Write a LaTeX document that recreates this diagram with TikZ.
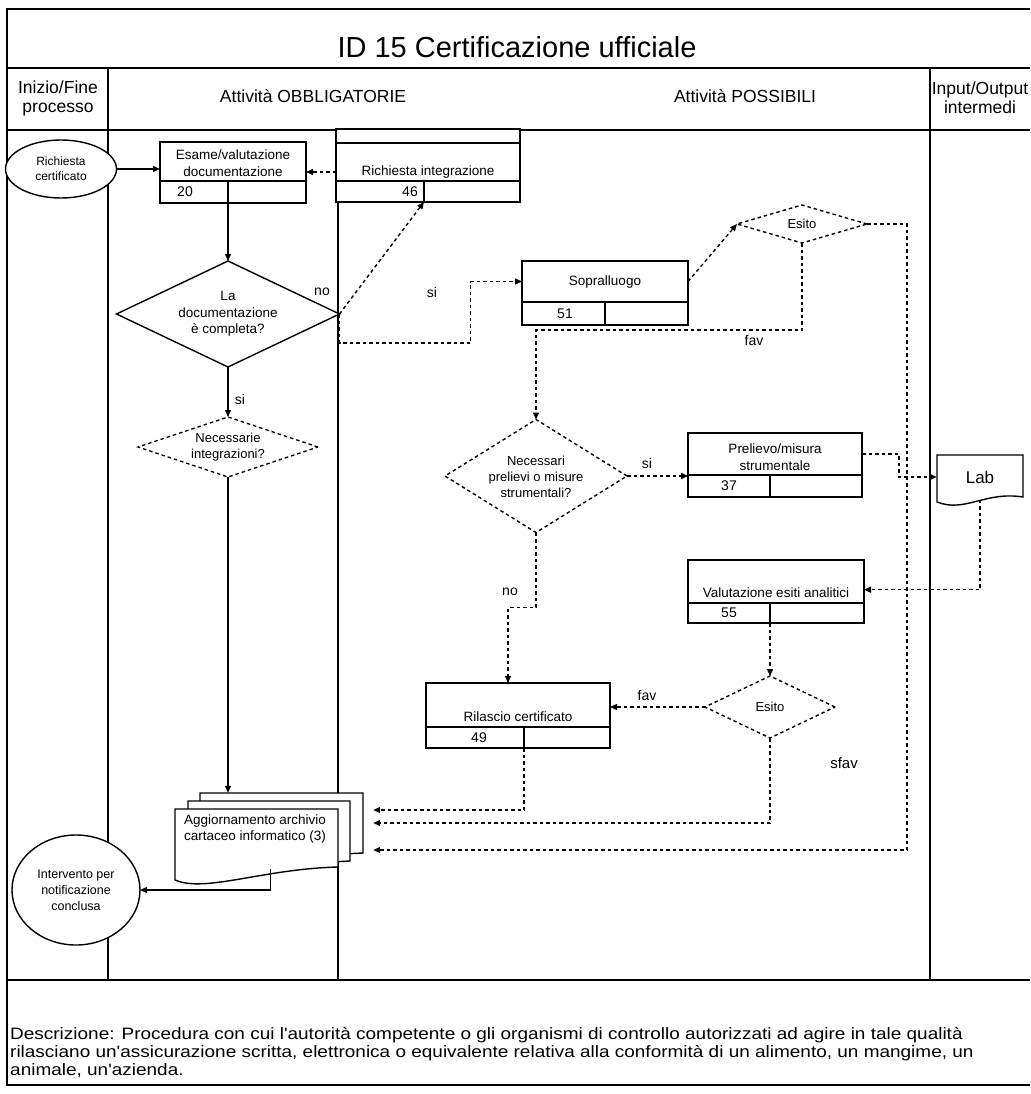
\documentclass[tikz,border=0pt]{standalone}
\usepackage{fontspec}
\setmainfont{Liberation Sans}
\newfontfamily\descfont[FakeStretch=1.15]{Liberation Sans}
\usetikzlibrary{shapes.geometric,arrows.meta,calc}

% process box: name, x1, y1, ydiv, x2, y2, xcell, xnum, number
\newcommand\procbox[9]{%
  \node[shp,minimum width={(#5-#2)*1pt},minimum height={(#4-#3)*1pt}] (#1) at ({(#2+#5)/2},{(#3+#4)/2}) {};
  \node[shp,minimum width={(#5-#2)*1pt},minimum height={(#6-#4)*1pt}] (#1-n) at ({(#2+#5)/2},{(#4+#6)/2}) {};
  \coordinate (#1-c) at (#7,#6);
  \draw[line width=1.4pt] (#7,#4) -- (#1-c);
  \node[num] (#1-num) at (#8,{(#4+#6)/2}) {#9};
}

\begin{document}
\begin{tikzpicture}[x=1pt,y=-1pt,
  frameline/.style={line width=1.6pt},
  laneline/.style={line width=1.4pt},
  shp/.style={draw,line width=1.4pt,inner sep=0pt,outer sep=0pt,fill=white},
  dshp/.style={shp,dash pattern=on 3.5pt off 3pt},
  hdr/.style={font=\fontsize{17.5}{19}\selectfont,align=center,inner sep=0pt},
  txt/.style={font=\fontsize{13.5}{16.5}\selectfont,align=center,inner sep=0pt},
  dtxt/.style={font=\fontsize{13}{16}\selectfont,align=center,inner sep=0pt},
  num/.style={font=\fontsize{14}{16}\selectfont,inner sep=0pt},
  lbl/.style={font=\fontsize{14}{16}\selectfont,inner sep=0pt},
  sarr/.style={line width=1.4pt,-{Triangle[length=7pt,width=6pt]}},
  darr/.style={sarr,dash pattern=on 3.5pt off 3pt},
  docline/.style={line width=1.4pt,fill=white}
]
\useasboundingbox (0,0) rectangle (1030,1094);

% frame, title band, header row, lanes
\draw[frameline] (1030,9) -- (7,9) -- (7,1085) -- (1030,1085);
\draw[frameline] (7,68) -- (1030,68);
\draw[frameline] (7,130) -- (1030,130);
\draw[frameline] (7,980) -- (1030,980);
\draw[laneline] (108,68) -- (108,980);
\draw[laneline] (338,130) -- (338,980);
\draw[laneline] (930,68) -- (930,980);

\node[font=\fontsize{29}{32}\selectfont,inner sep=0pt] (title) at (517,47) {ID 15 Certificazione ufficiale};
\node[hdr] (h1) at (58,98) {Inizio/Fine\\processo};
\node[hdr] (h2) at (313,96) {Attività OBBLIGATORIE};
\node[hdr] (h3) at (745,96) {Attività POSSIBILI};
\node[hdr] (h4) at (980,98) {Input/Output\\intermedi};

% start and end events
\node[shp,ellipse,minimum width=111pt,minimum height=58pt,font=\fontsize{12}{15}\selectfont,align=center] (rc) at (61,169) {Richiesta\\certificato};
\node[shp,ellipse,minimum width=128pt,minimum height=110pt,font=\fontsize{12.5}{16}\selectfont,align=center] (int) at (76,890) {Intervento per\\notificazione\\conclusa};

% process boxes
\procbox{esame}{160}{142}{181}{306}{203}{228}{185}{20}
\node[txt] (esame-t) at (233,163) {Esame/valutazione\\documentazione};

\procbox{ri}{336}{129}{181}{520}{202}{424}{410}{46}
\draw[line width=1.4pt] (336,143) -- (520,143);
\node[txt] (ri-t) at (428,172) {Richiesta integrazione};

\procbox{sop}{522}{261}{302}{688}{325}{605}{565}{51}
\node[txt] (sop-t) at (605,282) {Sopralluogo};

\procbox{prel}{688}{433}{475}{862}{497}{770}{729}{37}
\node[txt] (prel-t) at (775,457) {Prelievo/misura\\strumentale};

\procbox{val}{688}{560}{603}{864}{623}{770}{729}{55}
\node[txt] (val-t) at (776,593) {Valutazione esiti analitici};

\procbox{ril}{426}{683}{727}{610}{748}{524}{479}{49}
\node[txt] (ril-t) at (518,717) {Rilascio certificato};

% decisions
\node[shp,diamond,minimum width=223pt,minimum height=106pt] (doc) at (228,314) {};
\node[txt] (doc-t) at (228,314) {La\\documentazione\\è completa?};
\node[dshp,diamond,minimum width=180pt,minimum height=60pt] (necint) at (228,447) {};
\node[dtxt] (necint-t) at (228,447) {Necessarie\\integrazioni?};
\node[dshp,diamond,minimum width=130pt,minimum height=38pt] (esito1) at (802,224) {};
\node[dtxt] (esito1-t) at (802,224) {Esito};
\node[dshp,diamond,minimum width=182pt,minimum height=113pt] (nec) at (536,476) {};
\node[dtxt] (nec-t) at (536,477) {Necessari\\prelievi o misure\\strumentali?};
\node[dshp,diamond,minimum width=130pt,minimum height=62pt] (esito2) at (770,707) {};
\node[dtxt] (esito2-t) at (770,707) {Esito};

% laboratory document
\node[inner sep=0pt,minimum width=86pt,minimum height=45pt] (lab) at (980,477) {};
\draw[docline] (937,455) -- (1023,455) -- (1023,497) .. controls (985,491) and (965,513) .. (937,502) -- cycle;
\node[inner sep=0pt,font=\fontsize{17}{19}\selectfont] (lab-t) at (980,477) {Lab};

% archive update: stacked documents
\node[inner sep=0pt,minimum width=163pt,minimum height=60pt] (aggb) at (281.5,823) {};
\node[inner sep=0pt,minimum width=162pt,minimum height=60pt] (aggm) at (269,831) {};
\node[inner sep=0pt,minimum width=163pt,minimum height=60pt] (aggf) at (256.5,839) {};
\draw[docline] (200,855) -- (200,793) -- (363,793) -- (363,853) .. controls (320,855) and (250,860) .. (200,866) -- cycle;
\draw[docline] (188,863) -- (188,801) -- (350,801) -- (350,861) .. controls (310,863) and (240,868) .. (188,874) -- cycle;
\draw[docline] (175,880) -- (175,809) -- (338,809) -- (338,867) .. controls (262,869) and (205,893) .. (175,880) -- cycle;
\node[txt] (agg-t) at (255,829) {Aggiornamento archivio\\cartaceo informatico (3)};

% connectors
\draw[sarr] (rc.east) -- (rc.east -| esame.west);
\draw[darr] (ri-t -| ri.west) -- (ri-t -| esame.east);
\draw[sarr] (esame-c) -- (doc.north);
\draw[darr] (doc.east) -- (ri-c);
\node[lbl] (l-no1) at (322,292) {no};
\draw[darr] (doc.east) -- ++(0,29) -- ++(131,0) |- (sop.west);
\node[lbl] (l-si1) at (432,292) {si};
\draw[darr] (sop.east) -- (esito1.west);
\draw[darr] (esito1.south) -- ++(0,87) -| (nec.north);
\node[lbl] (l-fav1) at (754,341) {fav};
\draw[darr,shorten >=10pt] (esito1.east) -| ++(40,626) coordinate (f1) -- (f1 -| aggb.east);
\draw[darr] (nec.east) -- (nec.east -| prel.west);
\node[lbl] (l-si2) at (647,463) {si};
\draw[darr] (prel.east) -- ++(37,0) |- (lab.west);
\draw[darr] (lab.south) -- ++(0,90) coordinate (f2) -- (f2 -| val.east);
\draw[darr] (val-c) -- (val-c |- esito2.north);
\draw[darr] (esito2.west) -- (esito2.west -| ril.east);
\node[lbl] (l-fav2) at (647,695) {fav};
\draw[darr,shorten >=10pt] (esito2.south) -- ++(0,85) coordinate (f3) -- (f3 -| aggb.east);
\node[lbl,font=\fontsize{15}{17}\selectfont] (l-sfav) at (844,763) {sfav};
\draw[darr] (nec.south) -- ++(0,75) -| ([xshift=-10pt]ril.north);
\node[lbl] (l-no2) at (510,592) {no};
\draw[darr,shorten >=10pt] (ril-c) -- ++(0,62) coordinate (f4) -- (f4 -| aggb.east);
\draw[sarr] (doc.south) -- (necint.north);
\node[lbl] (l-si3) at (240,399) {si};
\draw[sarr] (necint.south) -- (necint.south |- aggb.north);
\draw[sarr] ([xshift=14pt]aggf.south) |- (int.east);

% description
\node[anchor=north west,align=left,inner sep=0pt,font=\descfont\fontsize{16.5}{18}\selectfont] (descr) at (10,1027)
 {Descrizione: Procedura con cui l'autorità competente o gli organismi di controllo autorizzati ad agire in tale qualità\\
  rilasciano un'assicurazione scritta, elettronica o equivalente relativa alla conformità di un alimento, un mangime, un\\
  animale, un'azienda.};
\end{tikzpicture}
\end{document}
